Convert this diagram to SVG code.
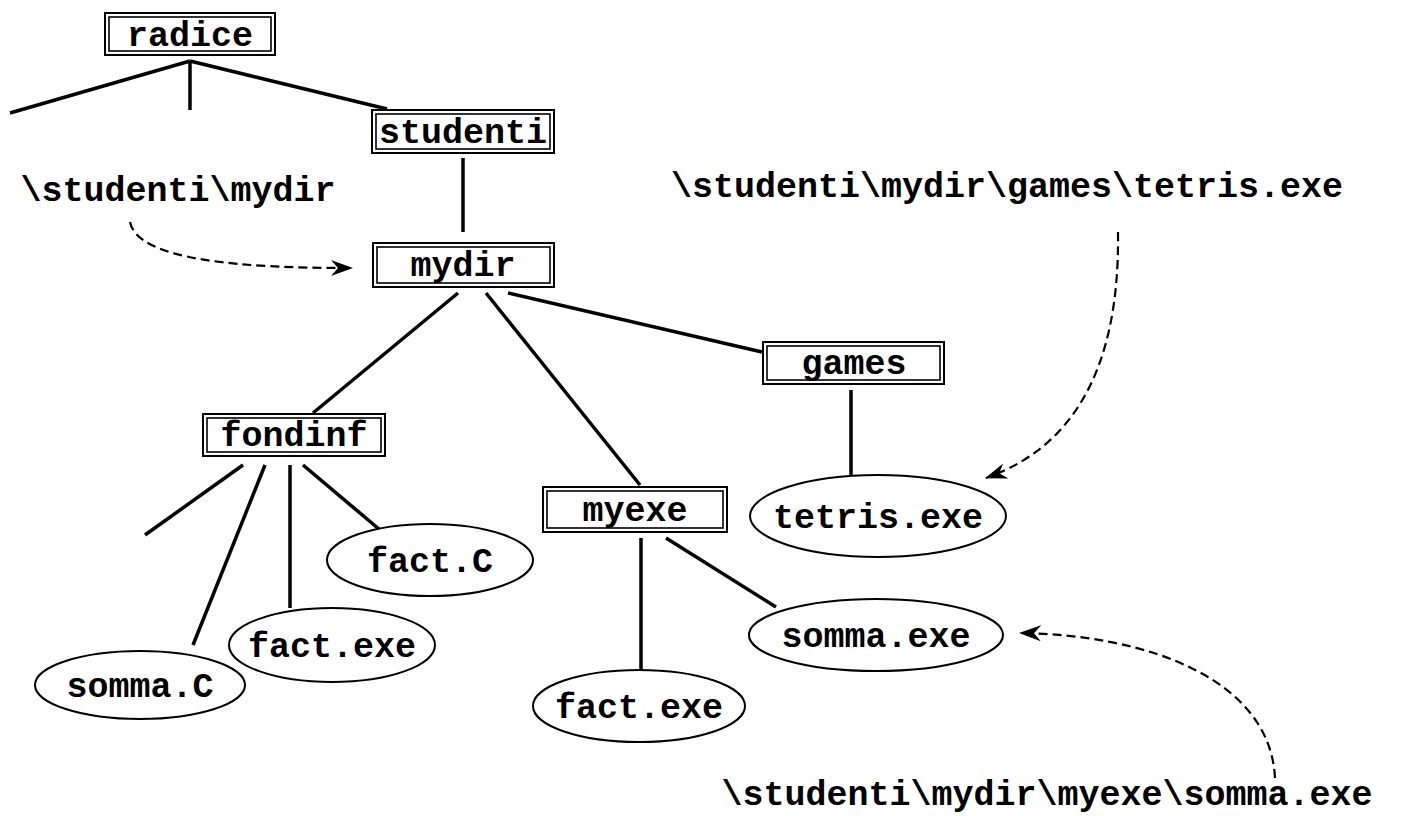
<svg xmlns="http://www.w3.org/2000/svg" width="1404" height="816" viewBox="0 0 1404 816">
<defs>
<style>
text{font-family:"Liberation Mono","Courier New",monospace;font-weight:bold;font-size:35px;fill:#000;text-anchor:middle}
.o{fill:#fff;stroke:#000;stroke-width:2}
.i{fill:none;stroke:#000;stroke-width:1.6}
.e{fill:#fff;stroke:#000;stroke-width:2}
.l{stroke:#000;stroke-width:3.5;fill:none;stroke-linecap:butt}
.d{stroke:#000;stroke-width:2.2;fill:none;stroke-dasharray:9,5}
</style>
<marker id="ah" viewBox="0 0 22 16" refX="21" refY="8" markerWidth="22" markerHeight="16" markerUnits="userSpaceOnUse" orient="auto">
<path d="M0,0 L22,8 L0,16 L7,8 Z" fill="#000"/>
</marker>
</defs>
<rect width="1404" height="816" fill="#fff"/>
<g id="connectors">
<line class="l" x1="190" y1="61" x2="10" y2="113"/>
<line class="l" x1="190" y1="61" x2="190" y2="110"/>
<line class="l" x1="190" y1="61" x2="387" y2="109"/>
<line class="l" x1="463" y1="158" x2="463" y2="232"/>
<line class="l" x1="458" y1="293" x2="313" y2="413"/>
<line class="l" x1="486" y1="293" x2="640" y2="485"/>
<line class="l" x1="508" y1="293" x2="762" y2="352"/>
<line class="l" x1="851" y1="390" x2="851" y2="476"/>
<line class="l" x1="243" y1="465" x2="145" y2="535"/>
<line class="l" x1="265" y1="465" x2="193" y2="645"/>
<line class="l" x1="290" y1="465" x2="290" y2="608"/>
<line class="l" x1="303" y1="465" x2="386" y2="535"/>
<line class="l" x1="641" y1="538" x2="641" y2="670"/>
<line class="l" x1="666" y1="538" x2="776" y2="607"/>
<path class="d" d="M130,222 C138,262 250,268 352,268" marker-end="url(#ah)"/>
<path class="d" d="M1118,232 C1120,380 1065,450 986,478" marker-end="url(#ah)"/>
<path class="d" d="M1275,778 C1270,680 1150,635 1020,633" marker-end="url(#ah)"/>
</g>
<g id="radice"><rect class="o" x="105" y="13" width="170" height="42"/><rect class="i" x="109" y="17" width="162" height="34"/><text x="190" y="46">radice</text></g>
<g id="studenti"><rect class="o" x="372" y="110" width="182" height="43"/><rect class="i" x="376" y="114" width="174" height="35"/><text x="463" y="143">studenti</text></g>
<g id="mydir"><rect class="o" x="373" y="243" width="181" height="44"/><rect class="i" x="377" y="247" width="173" height="36"/><text x="463" y="276">mydir</text></g>
<g id="fondinf"><rect class="o" x="203" y="414" width="182" height="42"/><rect class="i" x="207" y="418" width="174" height="34"/><text x="294" y="446">fondinf</text></g>
<g id="games"><rect class="o" x="763" y="342" width="181" height="42"/><rect class="i" x="767" y="346" width="173" height="34"/><text x="854" y="374">games</text></g>
<g id="myexe"><rect class="o" x="543" y="487" width="184" height="45"/><rect class="i" x="547" y="491" width="176" height="37"/><text x="635" y="521">myexe</text></g>
<g id="tetris"><ellipse class="e" cx="878" cy="516" rx="128" ry="41"/><text x="878" y="528">tetris.exe</text></g>
<g id="factC"><ellipse class="e" cx="430" cy="560" rx="103" ry="36"/><text x="430" y="572">fact.C</text></g>
<g id="factexe1"><ellipse class="e" cx="332" cy="645" rx="103" ry="37"/><text x="332" y="657">fact.exe</text></g>
<g id="sommaC"><ellipse class="e" cx="140" cy="685" rx="105" ry="34"/><text x="140" y="697">somma.C</text></g>
<g id="factexe2"><ellipse class="e" cx="639" cy="706" rx="106" ry="36"/><text x="639" y="718">fact.exe</text></g>
<g id="sommaexe"><ellipse class="e" cx="876" cy="635" rx="127" ry="36"/><text x="876" y="647">somma.exe</text></g>
<g id="labels">
<text x="178" y="201">\studenti\mydir</text>
<text x="1007" y="197">\studenti\mydir\games\tetris.exe</text>
<text x="1047" y="805">\studenti\mydir\myexe\somma.exe</text>
</g>
</svg>
